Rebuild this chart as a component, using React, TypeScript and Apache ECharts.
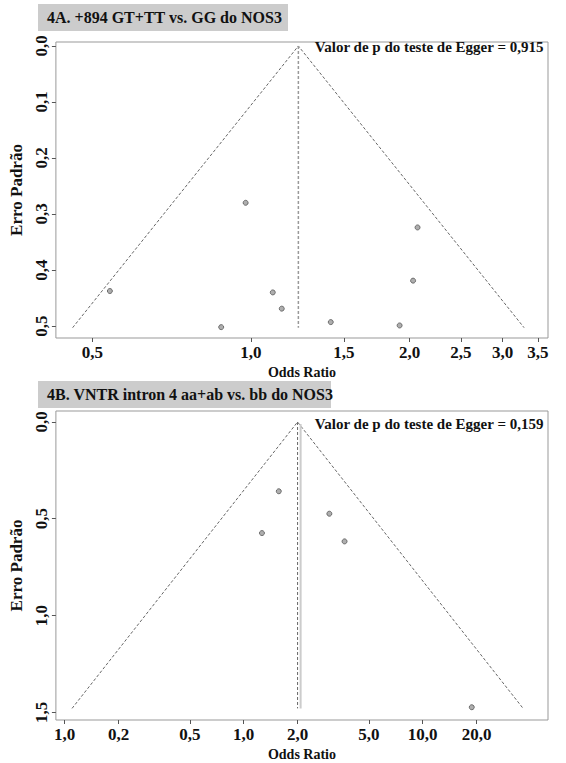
import React, { useEffect, useRef } from "react";
import * as echarts from "echarts";

// ---- Data: panel 4A ----
const orA = [0.977, 1.1, 1.144, 0.878, 1.417, 1.914, 2.07, 2.03, 0.54];
const seA = [0.28, 0.44, 0.469, 0.502, 0.493, 0.499, 0.324, 0.419, 0.4375];
const pooledA = 1.23;
const seMaxA = 0.503;
const tickValsXA = [0.5, 1.0, 1.5, 2.0, 2.5, 3.0, 3.5];
const tickLabsXA = ["0,5", "1,0", "1,5", "2,0", "2,5", "3,0", "3,5"];
const tickValsYA = [0, 0.1, 0.2, 0.3, 0.4, 0.5];
const titleA = "4A. +894 GT+TT vs. GG do NOS3";
const eggerA = "Valor de p do teste de Egger = 0,915";

// ---- Data: panel 4B ----
const orB = [1.571, 1.265, 3.01, 3.66, 18.8];
const seB = [0.358, 0.574, 0.474, 0.617, 1.474];
const pooledB = 2.0;
const pooledB2 = 2.08;
const seMaxB = 1.48;
const tickValsXB = [0.1, 0.2, 0.5, 1, 2, 5, 10, 20];
const tickLabsXB = ["1,0", "0,2", "0,5", "1,0", "2,0", "5,0", "10,0", "20,0"];
const tickValsYB = [0, 0.5, 1.0, 1.5];
const titleB = "4B. VNTR intron 4 aa+ab vs. bb do NOS3";
const eggerB = "Valor de p do teste de Egger = 0,159";

const FONT = "Liberation Serif";
const lg = (v: number) => Math.log10(v);

function funnel(p: number, seMax: number) {
  const lp = Math.log(p);
  const lo = Math.exp(lp - 1.96 * seMax);
  const hi = Math.exp(lp + 1.96 * seMax);
  return [
    [lg(lo), seMax],
    [lg(p), 0],
    [lg(hi), seMax],
  ];
}

function labelFor(vals: number[], labs: string[]) {
  return (v: number) => {
    for (let i = 0; i < vals.length; i++) {
      if (Math.abs(lg(vals[i]) - v) < 1e-6) return labs[i];
    }
    return "";
  };
}

const yFmt = (v: number) => v.toFixed(1).replace(".", ",");

export default function App() {
  const ref = useRef<HTMLDivElement>(null);
  useEffect(() => {
    if (!ref.current) return;
    const chart = echarts.init(ref.current, undefined, { renderer: "svg" });

    const axisTextStyle = {
      fontFamily: FONT,
      fontWeight: "bold" as const,
      fontSize: 17,
      color: "#111",
    };
    const nameStyle = {
      fontFamily: FONT,
      fontWeight: "bold" as const,
      color: "#111",
    };

    const xAxisBase = (idx: number, min: number, max: number, vals: number[], labs: string[]) => ({
      type: "value",
      gridIndex: idx,
      min,
      max,
      position: "bottom",
      name: "Odds Ratio",
      nameLocation: "middle",
      nameGap: 27,
      nameTextStyle: { ...nameStyle, fontSize: 14 },
      axisLine: { show: false, onZero: false },
      splitLine: { show: false },
      axisTick: {
        show: true,
        length: 4,
        lineStyle: { color: "#555" },
        customValues: vals.map(lg),
      },
      axisLabel: {
        ...axisTextStyle,
        margin: 6,
        customValues: vals.map(lg),
        formatter: labelFor(vals, labs),
      },
    });

    const yAxisBase = (idx: number, min: number, max: number, vals: number[]) => ({
      type: "value",
      gridIndex: idx,
      inverse: true,
      min,
      max,
      position: "left",
      name: "Erro Padrão",
      nameLocation: "middle",
      nameGap: 24,
      nameRotate: 90,
      nameTextStyle: { ...nameStyle, fontSize: 17 },
      axisLine: { show: false, onZero: false },
      splitLine: { show: false },
      axisTick: {
        show: true,
        length: 4,
        lineStyle: { color: "#555" },
        customValues: vals,
      },
      axisLabel: {
        ...axisTextStyle,
        rotate: 90,
        margin: 6,
        customValues: vals,
        formatter: yFmt,
      },
    });

    const dashed = { color: "#666", width: 1, type: [3, 2] as any };
    const pointStyle = { color: "#9a9a9a", borderColor: "#555", borderWidth: 1 };

    const option: any = {
      animation: false,
      backgroundColor: "#fff",
      grid: [
        { left: 52, right: 18, top: 42, height: 296, show: true, borderColor: "#999", borderWidth: 1, backgroundColor: "transparent" },
        { left: 52, right: 18, top: 411, height: 309, show: true, borderColor: "#999", borderWidth: 1, backgroundColor: "transparent" },
      ],
      xAxis: [
        xAxisBase(0, -0.37, 0.5634, tickValsXA, tickLabsXA),
        xAxisBase(1, -1.049, 1.7, tickValsXB, tickLabsXB),
      ],
      yAxis: [
        yAxisBase(0, -0.0071, 0.5214, tickValsYA),
        yAxisBase(1, -0.0568, 1.54, tickValsYB),
      ],
      series: [
        {
          type: "line",
          xAxisIndex: 0,
          yAxisIndex: 0,
          data: funnel(pooledA, seMaxA),
          symbol: "none",
          lineStyle: dashed,
          silent: true,
        },
        {
          type: "line",
          xAxisIndex: 0,
          yAxisIndex: 0,
          data: [
            [lg(pooledA), 0],
            [lg(pooledA), seMaxA],
          ],
          symbol: "none",
          lineStyle: { color: "#999", width: 1.5, type: [3, 2] },
          silent: true,
        },
        {
          type: "scatter",
          xAxisIndex: 0,
          yAxisIndex: 0,
          data: orA.map((o, i) => [lg(o), seA[i]]),
          symbol: "circle",
          symbolSize: 5,
          itemStyle: pointStyle,
        },
        {
          type: "line",
          xAxisIndex: 1,
          yAxisIndex: 1,
          data: funnel(pooledB, seMaxB),
          symbol: "none",
          lineStyle: dashed,
          silent: true,
        },
        {
          type: "line",
          xAxisIndex: 1,
          yAxisIndex: 1,
          data: [
            [lg(pooledB2), 0.01],
            [lg(pooledB2), seMaxB],
          ],
          symbol: "none",
          lineStyle: { color: "#ccc", width: 2, type: "solid" },
          silent: true,
        },
        {
          type: "line",
          xAxisIndex: 1,
          yAxisIndex: 1,
          data: [
            [lg(pooledB), 0],
            [lg(pooledB), seMaxB],
          ],
          symbol: "none",
          lineStyle: dashed,
          silent: true,
        },
        {
          type: "scatter",
          xAxisIndex: 1,
          yAxisIndex: 1,
          data: orB.map((o, i) => [lg(o), seB[i]]),
          symbol: "circle",
          symbolSize: 5,
          itemStyle: pointStyle,
        },
      ],
      graphic: [
        {
          type: "rect",
          left: 38,
          top: 4,
          shape: { width: 250, height: 27 },
          style: { fill: "#cccccc" },
          z: 0,
        },
        {
          type: "text",
          left: 47,
          top: 9,
          style: { text: titleA, fontFamily: FONT, fontWeight: "bold", fontSize: 16, fill: "#111" },
        },
        {
          type: "rect",
          left: 38,
          top: 381,
          shape: { width: 293, height: 27 },
          style: { fill: "#cccccc" },
          z: 0,
        },
        {
          type: "text",
          left: 47,
          top: 386,
          style: { text: titleB, fontFamily: FONT, fontWeight: "bold", fontSize: 16, fill: "#111" },
        },
        {
          type: "text",
          right: 22,
          top: 39,
          style: { text: eggerA, fontFamily: FONT, fontWeight: "bold", fontSize: 15, fill: "#111" },
        },
        {
          type: "text",
          right: 22,
          top: 416,
          style: { text: eggerB, fontFamily: FONT, fontWeight: "bold", fontSize: 15, fill: "#111" },
        },
      ],
    };

    chart.setOption(option);
    return () => chart.dispose();
  }, []);

  return (
    <div
      ref={ref}
      style={{ position: "absolute", left: 0, top: 0, width: 566, height: 763 }}
    />
  );
}
